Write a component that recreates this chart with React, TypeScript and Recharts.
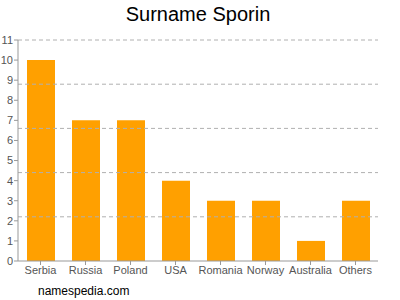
import { BarChart, Bar, XAxis, YAxis, ReferenceLine } from 'recharts';

const countries = ['Serbia', 'Russia', 'Poland', 'USA', 'Romania', 'Norway', 'Australia', 'Others'];
const counts = [10, 7, 7, 4, 3, 3, 1, 3];
const yTicks = [0, 1, 2, 3, 4, 5, 6, 7, 8, 9, 10, 11];
const gridValues = [2.2, 4.4, 6.6, 8.8, 11];

const data = countries.map((name, i) => ({ name, value: counts[i] }));

const font = '"Liberation Sans", Arial, sans-serif';

export default function App() {
  return (
    <div style={{ position: 'absolute', left: 0, top: 0, width: 400, height: 300, background: '#fff', fontFamily: font }}>
      <div style={{ position: 'absolute', left: 0, width: 396, top: 3, textAlign: 'center', fontSize: 20, color: '#000' }}>
        Surname Sporin
      </div>
      <BarChart width={400} height={300} data={data} margin={{ top: 40, right: 22, bottom: 20, left: 0 }} barSize={28}>
        {gridValues.map((v) => (
          <ReferenceLine key={v} y={v} stroke="#b0b0b0" strokeDasharray="4 3" ifOverflow="extendDomain" />
        ))}
        <XAxis
          dataKey="name"
          height={19}
          interval={0}
          tickSize={4}
          tickMargin={1}
          stroke="#999"
          tick={{ fill: '#555', fontSize: 11, fontFamily: font }}
        />
        <YAxis
          width={18}
          domain={[0, 11]}
          ticks={yTicks}
          interval={0}
          tickSize={4}
          tickMargin={1}
          stroke="#999"
          tick={{ fill: '#555', fontSize: 11, fontFamily: font }}
        />
        <Bar dataKey="value" fill="#FFA000" isAnimationActive={false} />
      </BarChart>
      <div style={{ position: 'absolute', left: 38, top: 284, fontSize: 12, color: '#000' }}>namespedia.com</div>
    </div>
  );
}
